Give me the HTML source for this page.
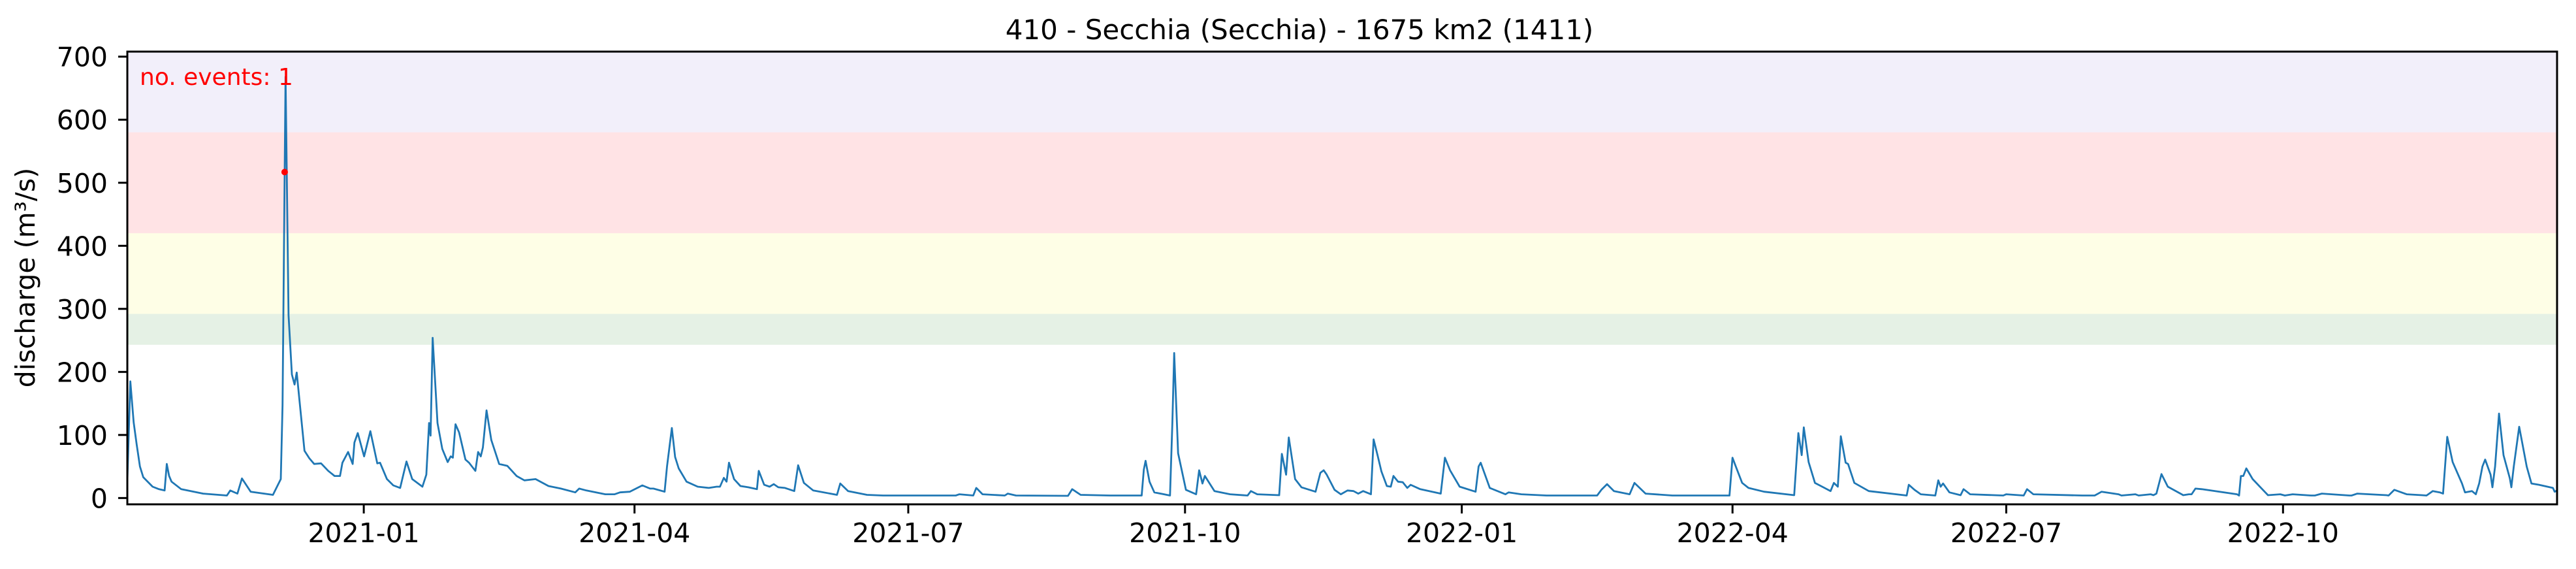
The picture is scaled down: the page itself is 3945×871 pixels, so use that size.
<!DOCTYPE html>
<html><head><meta charset="utf-8"><style>
html,body{margin:0;padding:0;background:#fff;}
svg{display:block;font-family:"DejaVu Sans","Liberation Sans",sans-serif;}
</style></head><body>
<svg id="chart" width="3945" height="871" viewBox="0 0 3945 871" xmlns="http://www.w3.org/2000/svg">
<text x="1990" y="60" font-size="42" text-anchor="middle" fill="#000">410 - Secchia (Secchia) - 1675 km2 (1411)</text>
<g id="bands"></g>
<g id="series"></g>
<g id="axes"></g>
<text transform="translate(53,425) rotate(-90)" font-size="41" text-anchor="middle" fill="#000">discharge (m³/s)</text>
<text x="214" y="130" font-size="36" fill="#ff0000">no. events: 1</text>
</svg>
<script>
// Day offsets relative to 2021-01-01
const dayOffsets = [-78.6,-77.6,-76.5,-75.5,-74.4,-73.3,-70.2,-68.1,-66.2,-65.5,-64.7,-63.9,-60.7,-53.4,-45.5,-44.4,-42,-40.5,-37.6,-30.2,-27.6,-27,-26,-25,-23.9,-23,-22.3,-19.7,-18.1,-16.5,-14.2,-11.8,-9.7,-7.9,-7.1,-5.2,-3.7,-3.1,-2,0.1,2.2,4.5,5.4,7.7,9.8,12.1,14.2,16.1,19.5,20.8,21.7,22.2,22.9,24.5,26.1,27.9,28.9,29.6,30.5,31.7,33.8,35,37.1,38,38.9,39.6,40.8,42.4,45,47.7,50.8,53.4,57.1,61.4,65.5,70.3,71.6,74,80.3,83.4,85.2,88.4,92.6,95.2,96.3,100,100.8,102.4,103.5,104.7,107.3,111,114.7,117.3,118.4,119.7,120.6,121.4,123.1,125.2,127.8,130.7,131.3,133.1,134.9,136.3,137.8,140,143.1,144.4,146.3,149.4,157.3,158.4,161,167.3,172.6,196.8,198,202.6,203.6,205.7,213.1,214.1,216.8,234.1,235.5,238.3,248.1,258.6,259.3,259.9,261.2,262.8,268,268.8,269.4,270.7,273.3,276.7,277.7,278.8,279.6,282.8,288,293.8,294.9,297,304.3,305.2,306.6,307.5,309.6,311.7,316.4,318,319.1,320.1,322.7,324.8,327,329,330.6,332.2,334.8,335.7,337,338.3,340.1,341.4,342.3,343.8,345.4,346.9,348,351.2,358,359.4,361.1,364.3,369.6,370.6,371.3,374.3,379.5,380.6,384.8,393.2,410,411.4,413.3,415.6,420.8,422.4,426.1,435,454,455,456.1,458.2,460.3,465.5,475.5,476.9,478,478.7,480.3,482.4,487.6,488.7,490,491,492.6,493.4,495.5,500.3,512.9,513.6,515.5,517.6,522.4,523.4,524.2,525,527.1,530.8,531.8,534,545,546,551.8,552.9,555,571.3,574.1,575.4,577.7,583.3,584.3,588.9,590,594,594.9,595.9,597.6,599.7,604.3,604.8,606.7,607.6,608.9,611,622.7,623.4,624,624.8,625.8,627.9,631.9,633,637.1,638.6,641.2,647.3,648.6,650.9,660.1,660.8,662.7,672.4,673.1,675,679.1,684.2,685.7,687.8,690.1,691.2,692.6,694.4,697.5,698.5,700.8,702.1,703.2,704.3,705.2,707,707.6,708.5,709.8,711.3,713.4,713.9,714.7,716.5,719,720.6,723.1,727.7,728.3,729.1];
const discharge = [28,185,120,85,50,33,18,14,12,54,35,26,14,7,4,12,7,31,10,5,30,147,668,290,196,180,199,75,63,54,55,43,35,35,56,73,54,88,103,66,106,55,56,30,20,16,58,30,18,37,119,99,254,119,78,57,66,64,117,104,61,56,43,73,66,80,139,92,54,51,35,28,30,19,15,9,15,12,6,6,9,10,20,15,15,10,50,111,65,47,26,18,16,18,18,32,26,56,30,19,17,14,43,21,18,22,17,16,11,52,24,12,5,23,11,5,4,4,6,4,16,6,4,7,4,3.5,14,5,4,4,45,59,26,9,4,119,230,71,13,6,44,23,35,11,6,4,11,6,4.5,70,37,96,30,17,10,40,44,37,13,6,12,11,7,11,6,93,68,42,19,18,35,26,25,16,21,14,7,64,44,18,10,50,56,16,6,9,6,4,4,13,22,11,6,24,7,4,4,64,50,24,16,10,4.5,103,68,112,57,24,11,24,18,98,56,54,24,11,4,21,13,6,4,28,18,23,9,4.5,14,6,4,6,4,14,6,4,4,4,10,6,4,6,4,6,4.5,7,38,18,6,4.5,6,6,15,14,6,4,35,35,47,30,10,4.5,6,4,6,4,4,7,4,4,7,4.5,4,13,6,4.5,4,11,9,7,97,57,23,9,11,6,23,50,61,37,17,50,134,68,31,17,50,113,50,23,21,16,10,12,47];
const eventDays = [-26.3];
const eventValues = [517];
const bandLower = [243, 292, 420, 580];
const bandUpper = [292, 420, 580, 708];
const bandColors = ["#e5f1e5", "#fefee6", "#ffe3e5", "#f2effa"];
const yTicks = [0, 100, 200, 300, 400, 500, 600, 700];
const xTickDays = [0, 90, 181, 273, 365, 455, 546, 638];
const xTickLabels = ["2021-01","2021-04","2021-07","2021-10","2022-01","2022-04","2022-07","2022-10"];

const NS = "http://www.w3.org/2000/svg";
const PL = 195, PR = 3916, PT = 79, PB = 772;
const XMIN = -78.6, XMAX = 729.1, YMIN = -10, YMAX = 708;
function xs(d){ return PL + (d - XMIN) / (XMAX - XMIN) * (PR - PL); }
function ys(v){ return PB - (v - YMIN) / (YMAX - YMIN) * (PB - PT); }
function mk(tag, attrs, parent){ const e = document.createElementNS(NS, tag); for (const k in attrs) e.setAttribute(k, attrs[k]); parent.appendChild(e); return e; }

const bands = document.getElementById('bands');
for (let i = 0; i < bandLower.length; i++) {
  const top = Math.max(ys(bandUpper[i]), PT);
  const r = mk('rect', {x: PL, y: top, width: PR - PL, height: ys(bandLower[i]) - top, fill: bandColors[i]}, bands);
  
  
}

const series = document.getElementById('series');
let d = '';
for (let i = 0; i < dayOffsets.length; i++) d += (i ? 'L' : 'M') + xs(dayOffsets[i]).toFixed(1) + ',' + ys(discharge[i]).toFixed(1);
const line = mk('path', {d: d, fill: 'none', stroke: '#1f77b4', 'stroke-width': 2.8, 'stroke-linejoin': 'round'}, series);


for (let i = 0; i < eventDays.length; i++) {
  const c = mk('circle', {cx: xs(eventDays[i]), cy: ys(eventValues[i]), r: 5, fill: '#ff0000'}, series);
  
  
}

const axes = document.getElementById('axes');
const frame = mk('rect', {x: PL, y: PT, width: PR - PL, height: PB - PT, fill: 'none', stroke: '#000', 'stroke-width': 3}, axes);


for (let i = 0; i < yTicks.length; i++) {
  const y = ys(yTicks[i]);
  const t = mk('line', {x1: PL - 14, x2: PL, y1: y, y2: y, stroke: '#000', 'stroke-width': 3}, axes);
  
  
  const l = mk('text', {x: PL - 30, y: y + 15, 'font-size': 41, 'text-anchor': 'end', fill: '#000'}, axes);
  
  
  l.textContent = yTicks[i];
}
for (let i = 0; i < xTickDays.length; i++) {
  const x = xs(xTickDays[i]);
  const t = mk('line', {x1: x, x2: x, y1: PB, y2: PB + 14, stroke: '#000', 'stroke-width': 3}, axes);
  
  
  const l = mk('text', {x: x, y: 830, 'font-size': 41, 'text-anchor': 'middle', fill: '#000'}, axes);
  
  
  l.textContent = xTickLabels[i];
}
</script>
</body></html>
